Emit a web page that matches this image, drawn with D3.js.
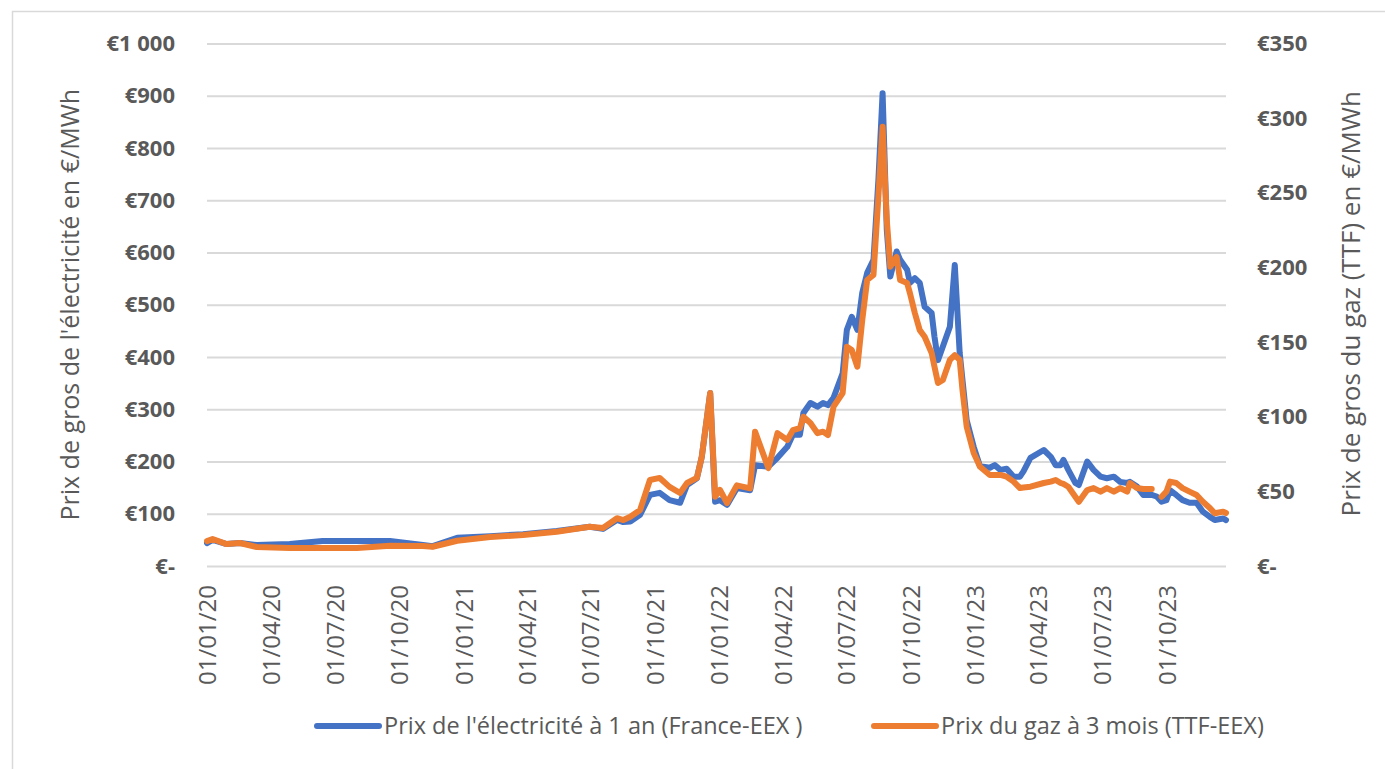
<!DOCTYPE html>
<html>
<head>
<meta charset="utf-8">
<script src="https://cdn.jsdelivr.net/npm/d3@7"></script>
<style>
  body { margin: 0; background: #fff; }
  text { font-family: "Open Sans", "Noto Sans", sans-serif; fill: #595959; }
</style>
</head>
<body>
<div id="chart"></div>
<script>
// weekly-ish readings, electricity (€/MWh, left axis) and gas (€/MWh, right axis)
var dates = ["2020-01-01","2020-01-09","2020-01-29","2020-02-17","2020-03-12","2020-04-28","2020-06-14","2020-08-02","2020-09-18","2020-11-04","2020-11-18","2020-12-23",
  "2021-02-08","2021-03-27","2021-05-14","2021-06-30","2021-07-19","2021-08-08","2021-08-17","2021-08-27","2021-09-10","2021-09-24","2021-10-08","2021-10-22","2021-11-06","2021-11-16","2021-11-30","2021-12-07","2021-12-19","2021-12-26",
  "2022-01-02","2022-01-12","2022-01-26","2022-02-14","2022-02-21","2022-03-12","2022-03-25","2022-04-08","2022-04-16","2022-04-26","2022-05-01","2022-05-11","2022-05-21","2022-05-29","2022-06-05","2022-06-13","2022-06-26","2022-07-02","2022-07-09","2022-07-17","2022-07-24","2022-07-31","2022-08-09","2022-08-16","2022-08-22","2022-08-28","2022-09-02","2022-09-11","2022-09-16","2022-09-26","2022-09-30","2022-10-07","2022-10-14","2022-10-21","2022-10-31","2022-11-04","2022-11-09","2022-11-16","2022-11-26","2022-12-03","2022-12-10","2022-12-14","2022-12-20","2022-12-30",
  "2023-01-08","2023-01-22","2023-01-29","2023-02-06","2023-02-15","2023-02-25","2023-03-06","2023-03-11","2023-03-21","2023-04-09","2023-04-19","2023-04-26","2023-05-03","2023-05-07","2023-05-14","2023-05-24","2023-05-29","2023-06-10","2023-06-19","2023-06-29","2023-07-08","2023-07-18","2023-07-27","2023-08-06","2023-08-10","2023-08-20","2023-08-29","2023-09-10","2023-09-17","2023-09-24","2023-10-01","2023-10-06","2023-10-15","2023-10-24","2023-11-03","2023-11-13","2023-11-22","2023-12-02","2023-12-09","2023-12-21","2023-12-25"];

var elecPrices = [44, 50, 42, 44, 40, 42, 48, 48, 48, 40, 38, 54,
  57, 61, 67, 75, 71, 88, 84, 85, 98, 136, 140, 126, 121, 155, 168, 209, 331, 123,
  126, 117, 149, 145, 193, 190, 207, 228, 251, 251, 293, 312, 305, 312, 308, 322, 369, 452, 477, 452, 523, 561, 586, 739, 905, 643, 554, 602, 586, 567, 542, 551, 542, 496, 484, 439, 394, 420, 458, 576, 408, 356, 279, 228,
  191, 188, 193, 184, 186, 171, 171, 181, 207, 222, 209, 193, 193, 203, 184, 159, 155, 200, 184, 171, 168, 171, 161, 159, 161, 152, 136, 136, 133, 123, 126, 145, 136, 126, 121, 121, 104, 94, 88, 91, 88];

var gasPrices = [16.7, 18.1, 14.7, 15.4, 12.7, 12, 12, 12, 13.6, 13.4, 12.9, 16.9,
  19.4, 20.8, 23, 26.3, 25.5, 32, 30.8, 33, 37.5, 57.6, 59, 53, 48.9, 55.6, 59, 73.2, 115.9, 46.4,
  51, 42.2, 54, 52, 90, 65.6, 89, 84.4, 91, 92.4, 100, 95.8, 89, 90, 87.7, 106.7, 115.9, 146.9, 144.7, 133.5, 164.8, 191.6, 195, 247.4, 294.2, 231.7, 200.5, 207, 191.6, 189.6, 182.8, 169.5, 158, 153.6, 142.7, 133.5, 122.6, 124.6, 138, 141.3, 138, 117.9, 93.3, 75.7,
  66.5, 61, 61, 61, 59.8, 56.5, 52.2, 52.6, 53.1, 55.6, 56.5, 57.6, 55.6, 55, 53.1, 46.4, 43, 50.9, 52.2, 49.8, 52.2, 49.8, 52.2, 49.8, 55.6, 52.2, 51.6, 51.6, null, 46.4, 49.8, 56.5, 55.6, 52.2, 49.8, 47.6, 43, 38.8, 35.3, 36.4, 35.5];

var leftTicks = [0, 100, 200, 300, 400, 500, 600, 700, 800, 900, 1000];
var rightTicks = [0, 50, 100, 150, 200, 250, 300, 350];
var seriesNames = ["Prix de l'électricité à 1 an (France-EEX )", "Prix du gaz à 3 mois (TTF-EEX)"];
var leftTitle = "Prix de gros de l'électricité en €/MWh";
var rightTitle = "Prix de gros du gaz (TTF) en €/MWh";

var svgWidth = 1385;
var svgHeight = 769;
var margin = { top: 43.5, right: 159, bottom: 203, left: 207 };
var width = svgWidth - margin.left - margin.right;
var height = svgHeight - margin.top - margin.bottom;

var blue = "#4472C4";
var orange = "#ED7D31";

var parseDate = d3.timeParse("%Y-%m-%d");
var rows = dates.map(function(d, i) {
  return { date: parseDate(d), elec: elecPrices[i], gas: gasPrices[i] };
});

var svg = d3.select("#chart").append("svg")
  .attr("width", svgWidth)
  .attr("height", svgHeight);

// outer chart frame (only top and left edges are visible)
svg.append("rect")
  .attr("x", 12.5).attr("y", 11.5)
  .attr("width", 1400).attr("height", 800)
  .attr("fill", "none").attr("stroke", "#d9d9d9").attr("stroke-width", 1.5);

var chartGroup = svg.append("g")
  .attr("transform", `translate(${margin.left}, ${margin.top})`);

var xScale = d3.scaleTime()
  .domain([parseDate("2020-01-01"), parseDate("2023-12-25")])
  .range([0, width]);

var yLeft = d3.scaleLinear().domain([0, 1000]).range([height, 0]);
var yRight = d3.scaleLinear().domain([0, 350]).range([height, 0]);

var euro = function(v) {
  if (v === 0) return "€-";
  return "€" + d3.format(",")(v).replace(",", " ");
};

// gridlines
chartGroup.append("g")
  .call(d3.axisLeft(yLeft).tickValues(leftTicks).tickSize(-width).tickFormat(""))
  .call(function(g) {
    g.select(".domain").remove();
    g.selectAll("line").attr("stroke", "#d9d9d9").attr("stroke-width", 2);
  });

function styleValueLabels(g) {
  g.select(".domain").remove();
  g.selectAll("text")
    .attr("fill", "#595959")
    .style("font-size", "22px")
    .style("font-weight", 700)
    .style("font-family", "'Open Sans', sans-serif");
}

// left axis labels
chartGroup.append("g")
  .call(d3.axisLeft(yLeft).tickValues(leftTicks).tickSize(0).tickPadding(32).tickFormat(euro))
  .call(styleValueLabels);

// right axis labels
chartGroup.append("g")
  .attr("transform", `translate(${width}, 0)`)
  .call(d3.axisRight(yRight).tickValues(rightTicks).tickSize(0).tickPadding(31).tickFormat(euro))
  .call(styleValueLabels);

// x axis, vertical date labels
chartGroup.append("g")
  .attr("transform", `translate(0, ${height})`)
  .call(d3.axisBottom(xScale).ticks(d3.timeMonth.every(3)).tickSize(0).tickFormat(d3.timeFormat("%d/%m/%y")))
  .call(function(g) {
    g.select(".domain").remove();
    g.selectAll("text")
      .attr("transform", "rotate(-90)")
      .attr("text-anchor", "end")
      .attr("x", -19)
      .attr("y", 0)
      .attr("dy", "0.36em")
      .attr("fill", "#595959")
      .style("font-size", "24px")
      .style("font-family", "'Open Sans', sans-serif");
  });

// lines
var elecLine = d3.line()
  .x(d => xScale(d.date))
  .y(d => yLeft(d.elec));

var gasLine = d3.line()
  .defined(d => d.gas !== null)
  .x(d => xScale(d.date))
  .y(d => yRight(d.gas));

chartGroup.append("path")
  .datum(rows)
  .attr("d", elecLine)
  .attr("fill", "none")
  .attr("stroke", blue)
  .attr("stroke-width", 6)
  .attr("stroke-linejoin", "round")
  .attr("stroke-linecap", "round");

chartGroup.append("path")
  .datum(rows)
  .attr("d", gasLine)
  .attr("fill", "none")
  .attr("stroke", orange)
  .attr("stroke-width", 6)
  .attr("stroke-linejoin", "round")
  .attr("stroke-linecap", "round");

// axis titles
svg.append("text")
  .attr("transform", `translate(79, ${margin.top + height / 2}) rotate(-90)`)
  .attr("text-anchor", "middle")
  .style("font-size", "25px")
  .text(leftTitle);

svg.append("text")
  .attr("transform", `translate(1360, ${margin.top + height / 2 - 1}) rotate(-90)`)
  .attr("text-anchor", "middle")
  .style("font-size", "26px")
  .text(rightTitle);

// legend
var legendItems = [
  { name: seriesNames[0], color: blue, x: 317 },
  { name: seriesNames[1], color: orange, x: 874 }
];
var legend = svg.selectAll(".legend")
  .data(legendItems)
  .enter()
  .append("g")
  .attr("class", "legend")
  .attr("transform", d => `translate(${d.x}, 726)`);

legend.append("line")
  .attr("x1", 0).attr("x2", 62)
  .attr("stroke", d => d.color)
  .attr("stroke-width", 6)
  .attr("stroke-linecap", "round");

legend.append("text")
  .attr("x", 67)
  .attr("dy", "0.35em")
  .style("font-size", "23.5px")
  .text(d => d.name);
</script>
</body>
</html>
